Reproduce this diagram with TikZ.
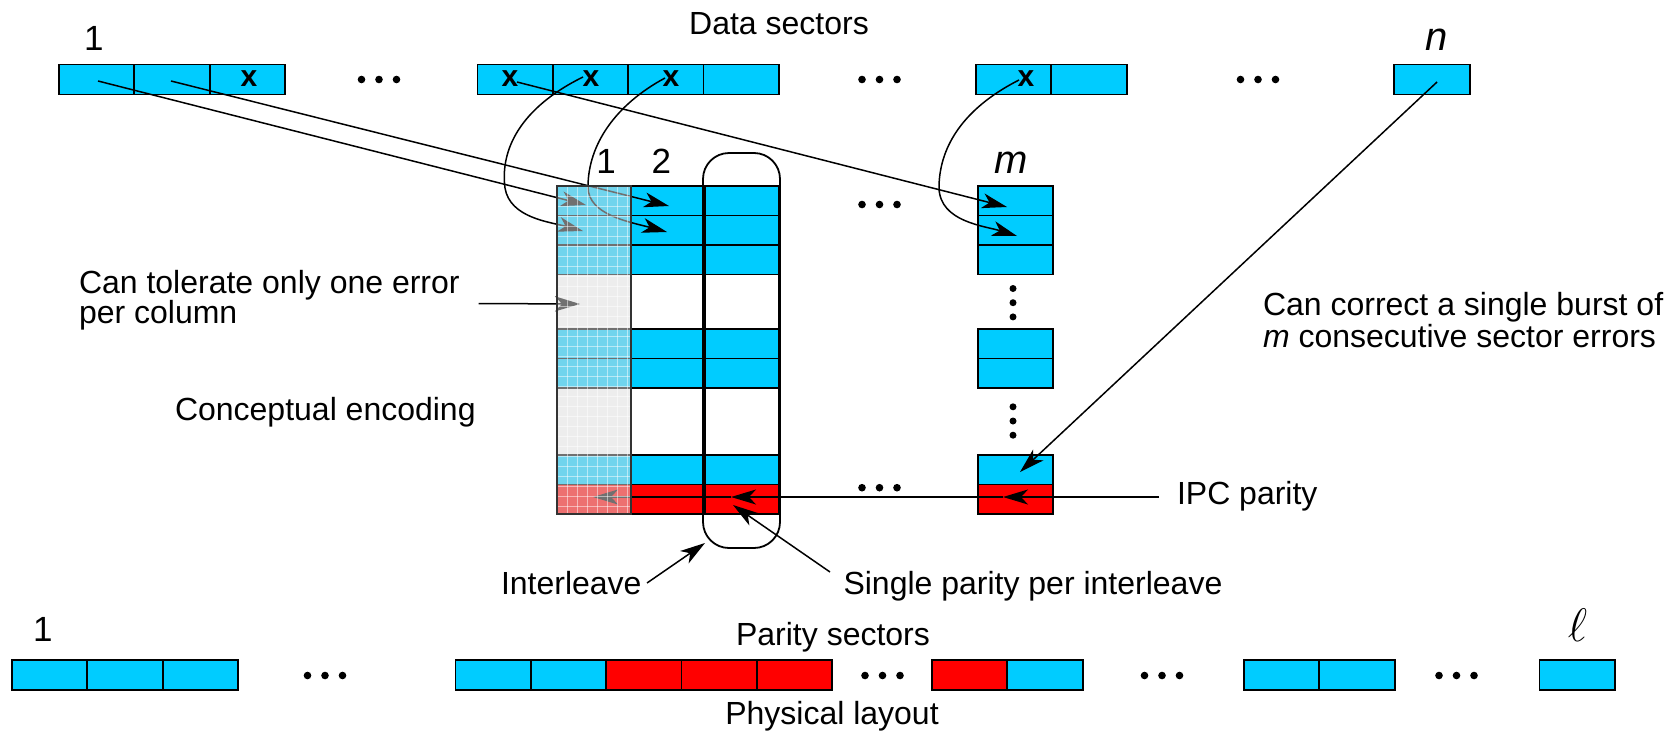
\RequirePackage{fix-cm}
\documentclass[tikz,border=0pt]{standalone}
\usepackage{fontspec}
\setmainfont{Liberation Sans}
\usetikzlibrary{arrows.meta}

\definecolor{sblue}{HTML}{00CCFF}
\definecolor{sred}{HTML}{FF0000}
\definecolor{veil}{RGB}{220,220,220}

\tikzset{
  sector/.style={draw=black, line width=1.8pt, fill=sblue, minimum width=75.3pt,
                 minimum height=30pt, inner sep=0pt, outer sep=0pt},
  psector/.style={sector, fill=sred},
  lbl/.style={font=\fontsize{32}{32}\selectfont, inner sep=0pt, outer sep=0pt},
  biglbl/.style={font=\fontsize{40}{40}\selectfont\itshape, inner sep=0pt},
  collbl/.style={font=\fontsize{35}{35}\selectfont, inner sep=0pt},
  xmark/.style={font=\fontsize{30}{30}\selectfont\bfseries, inner sep=0pt},
  link/.style={line width=1.5pt, -{Stealth[length=25pt,width=15pt,inset=7pt]}},
}

% three dots in a row / in a column
\newcommand\threedotsh[2]{\fill (#1-17.5,#2) circle (3.8pt) (#1,#2) circle (3.8pt) (#1+17.5,#2) circle (3.8pt);}
\newcommand\threedotsv[2]{\fill (#1,#2-14.2) circle (3.5pt) (#1,#2) circle (3.5pt) (#1,#2+14.2) circle (3.5pt);}

\begin{document}
\begin{tikzpicture}[x=1pt, y=-1pt]
\useasboundingbox (0,0) rectangle (1677,734);

% ---------------- data sectors ----------------
\node[lbl, anchor=base] (dsec) at (779,34) {Data sectors};
\node[collbl, anchor=base] (first) at (93.8,50) {1};
\node[biglbl, anchor=base] (last) at (1436.7,50) {n};

\foreach \i/\x in {1/96.65, 2/171.95, 3/247.25} \node[sector] (a\i) at (\x,79.5) {};
\foreach \i/\x in {1/515.15, 2/590.45, 3/665.75, 4/741.05} \node[sector] (b\i) at (\x,79.5) {};
\foreach \i/\x in {1/1013.65, 2/1088.95} \node[sector] (c\i) at (\x,79.5) {};
\node[sector] (d1) at (1432,79.5) {};

\node[xmark] (xa3) at (249,79) {x};
\node[xmark] (xb1) at (510,79) {x};
\node[xmark] (xb2) at (591,79) {x};
\node[xmark] (xb3) at (671,79) {x};
\node[xmark] (xc1) at (1026,79) {x};

\threedotsh{379}{79.5}
\threedotsh{879.5}{79.5}
\threedotsh{1258}{79.5}

% ---------------- conceptual encoding ----------------
\node[collbl, anchor=base] (col1) at (606,173) {1};
\node[collbl, anchor=base] (col2) at (661.4,173) {2};
\node[biglbl, anchor=base] (colm) at (1010.7,173) {m};

\foreach \r/\y/\h/\c in {1/200.75/29.5/sblue, 2/230.25/29.5/sblue, 3/259.75/29.5/sblue,
                         4/301.75/54.5/white, 5/343.75/29.5/sblue, 6/373.25/29.5/sblue,
                         7/421.5/67/white, 8/469.75/29.5/sblue, 9/499.25/29.5/sred}
  \foreach \k/\x in {1/594, 2/668, 3/742}
    \node[sector, fill=\c, minimum width=74pt, minimum height=\h pt] (g\k\r) at (\x,\y) {};

\foreach \r/\y/\c in {1/200.75/sblue, 2/230.25/sblue, 3/259.75/sblue, 5/343.75/sblue,
                      6/373.25/sblue, 8/469.75/sblue, 9/499.25/sred}
  \node[sector, fill=\c, minimum height=29.5pt] (gm\r) at (1015.5,\y) {};

\threedotsv{1013}{302.7}
\threedotsv{1013}{421}
\threedotsh{879.5}{204.5}
\threedotsh{879.5}{487.7}

% interleave outline
\node[draw=black, line width=1.8pt, rounded corners=26pt, minimum width=77pt,
      minimum height=395pt, inner sep=0pt] (ilv) at (741.5,350.5) {};

% ---------------- connectors ----------------
\coordinate (sa1) at (98,81);    \coordinate (ta1) at (586,205);
\coordinate (sa2) at (171,81);   \coordinate (ta2) at (669,206);
\coordinate (sb1) at (517,82);   \coordinate (tb1) at (1007,207);
\coordinate (sb2) at (583,77);   \coordinate (tb2) at (583,231);
\coordinate (sb3) at (665,78);   \coordinate (tb3) at (667,232);
\coordinate (sc1) at (1019,80);  \coordinate (tc1) at (1017,236);
\coordinate (sd1) at (1437,82);  \coordinate (td1) at (1020,472);

\draw[link] (sa1) -- (ta1);
\draw[link] (sa2) -- (ta2);
\draw[link] (sb1) -- (tb1);
\draw[link] (sb2) .. controls (520,108) and (500,150) .. (505,188)
                  .. controls (510,218) and (550,222) .. (tb2);
\draw[link] (sb3) .. controls (615,105) and (588,145) .. (588,187)
                  .. controls (588,215) and (630,222) .. (tb3);
\draw[link] (sc1) .. controls (960,110) and (939,150) .. (939,188)
                  .. controls (940,222) and (985,226) .. (tc1);
\draw[link] (sd1) -- (td1);

% parity chain along the last row
\coordinate (ipc) at (1159,497);
\coordinate (pm) at (1003,497);
\coordinate (p3) at (731,497);
\coordinate (p1) at (593,497);
\draw[link] (ipc) -- (pm);
\draw[link] (pm) -- (p3);
\draw[link] (p3) -- (p1);

% pointer from the left-hand note
\coordinate (tolend) at (478.6,303.5);
\coordinate (toltip) at (580,304);
\draw[link] (tolend) -- (toltip);

% first column: translucent veil with a fine grid
\fill[veil, opacity=0.51] (557,186) rectangle (631,514);
\foreach \gx in {567,577,...,627}
  \draw[white, line width=0.7pt, opacity=0.5] (\gx,186) -- (\gx,514);
\foreach \gy in {196,206,...,506}
  \draw[white, line width=0.7pt, opacity=0.5] (557,\gy) -- (631,\gy);
\draw[black!80, line width=1.8pt] (557,186) rectangle (631,514);

% ---------------- notes ----------------
\node[lbl, anchor=base west] (tol1) at (79,293) {Can tolerate only one error};
\node[lbl, anchor=base west] (tol2) at (79,323) {per column};
\node[lbl, anchor=base west] (enc) at (175,420) {Conceptual encoding};
\node[lbl, anchor=base west] (cor1) at (1263,315) {Can correct a single burst of};
\node[lbl, anchor=base west] (cor2) at (1263,347) {\itshape m\upshape\ consecutive sector errors};
\node[lbl, anchor=base west] (ipct) at (1177,504) {IPC parity};
\node[lbl, anchor=base west] (spi) at (843.5,594) {Single parity per interleave};
\node[lbl, anchor=base west] (ilt) at (501,594) {Interleave};

\coordinate (spis) at (830,572);  \coordinate (spit) at (733,505);
\coordinate (ilts) at (647,583);  \coordinate (iltt) at (705,543);
\draw[link] (spis) -- (spit);
\draw[link] (ilts) -- (iltt);

% ---------------- physical layout ----------------
\node[lbl, anchor=base] (psec) at (833,645) {Parity sectors};
\node[lbl, anchor=base] (play) at (832,724) {Physical layout};
\node[collbl, anchor=base] (pfirst) at (42.8,641) {1};
\node[font=\fontsize{47}{47}\selectfont, inner sep=0pt, anchor=base] (plast) at (1577.5,641) {$\ell$};

\foreach \i/\x in {1/49.5, 2/125, 3/200.5} \node[sector] (pa\i) at (\x,675) {};
\foreach \i/\x/\s in {1/493.2/sector, 2/568.5/sector, 3/643.8/psector, 4/719.1/psector, 5/794.4/psector}
  \node[\s] (pb\i) at (\x,675) {};
\node[psector] (pc1) at (969.7,675) {};
\node[sector] (pc2) at (1045,675) {};
\foreach \i/\x in {1/1281.7, 2/1357} \node[sector] (pd\i) at (\x,675) {};
\node[sector] (pe1) at (1577.2,675) {};

\threedotsh{325}{675.5}
\threedotsh{882.5}{675.5}
\threedotsh{1162}{675.5}
\threedotsh{1456.5}{675.5}

\end{tikzpicture}
\end{document}
